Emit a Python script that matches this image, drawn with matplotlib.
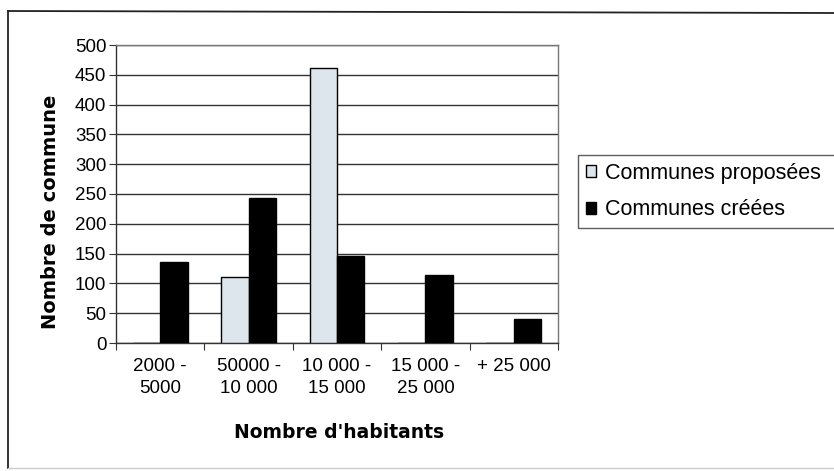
import matplotlib
matplotlib.use("Agg")
import matplotlib.pyplot as plt
from matplotlib.lines import Line2D
import numpy as np

plt.rcParams['font.family'] = ['Liberation Sans', 'DejaVu Sans']

categories = ["2000 -\n5000", "50000 -\n10 000", "10 000 -\n15 000", "15 000 -\n25 000", "+ 25 000"]
proposees = [0, 110, 462, 0, 0]
creees = [136, 243, 146, 114, 40]
series_names = ["Communes proposées", "Communes créées"]

W, H = 834, 471
fig = plt.figure(figsize=(W/100, H/100), dpi=100)
ax = fig.add_axes([116/W, 1 - 343/H, (558 - 116)/W, (343 - 45)/H])

x = np.arange(len(categories))
w = 0.31
ax.bar(x - w/2, proposees, width=w, color="#dde6ec", edgecolor="black", linewidth=1, label=series_names[0], zorder=3)
ax.bar(x + w/2, creees, width=w, color="black", edgecolor="black", linewidth=1, label=series_names[1], zorder=3)

ax.set_xlim(-0.5, len(categories) - 0.5)
ax.set_ylim(0, 500)
ax.set_yticks(np.arange(0, 501, 50))
ax.yaxis.grid(True, color="#333333", linewidth=1, zorder=0)
ax.set_axisbelow(True)

ax.set_xticks(np.arange(-0.5, len(categories), 1))
ax.set_xticklabels([])
ax.set_xticks(x, minor=True)
ax.set_xticklabels(categories, minor=True, fontsize=13.5, linespacing=1.35)
ax.tick_params(axis='x', which='minor', length=0, pad=11)
ax.tick_params(axis='x', which='major', length=5, direction='out', color="#333333")
ax.tick_params(axis='y', length=5, direction='out', labelsize=13.5, color="#333333", pad=2)

for s in ax.spines.values():
    s.set_color("#777777")
    s.set_linewidth(1)
ax.spines['bottom'].set_color("#333333")
ax.spines['left'].set_color("#333333")

ax.set_xlabel("Nombre d'habitants", fontsize=13.5, fontweight='bold', family='DejaVu Sans')
ax.xaxis.set_label_coords(0.505, -0.27)
ax.set_ylabel("Nombre de commune", fontsize=14, fontweight='bold', family='DejaVu Sans')
ax.yaxis.set_label_coords(-0.127, 0.44)

leg = fig.legend(loc='upper left', bbox_to_anchor=(578/W, 1 - 160/H, 290/W, 0.01), mode='expand',
                 fontsize=15.5, frameon=True, fancybox=False, edgecolor="#333333", handlelength=0.5,
                 handleheight=0.5, handletextpad=0.4, borderaxespad=0, labelspacing=0.72,
                 borderpad=0.35)
leg.get_frame().set_linewidth(1)

# outer chart frame
fig.add_artist(Line2D([8/W, 8/W], [1 - 11/H, 1 - 468/H], transform=fig.transFigure, color="#222222", lw=1.3))
fig.add_artist(Line2D([8/W, 1.0], [1 - 11/H, 1 - 13/H], transform=fig.transFigure, color="#222222", lw=1.3))
fig.add_artist(Line2D([8/W, 1.0], [1 - 468/H, 1 - 468/H], transform=fig.transFigure, color="#cccccc", lw=1))

fig.savefig("out.png", dpi=100)
